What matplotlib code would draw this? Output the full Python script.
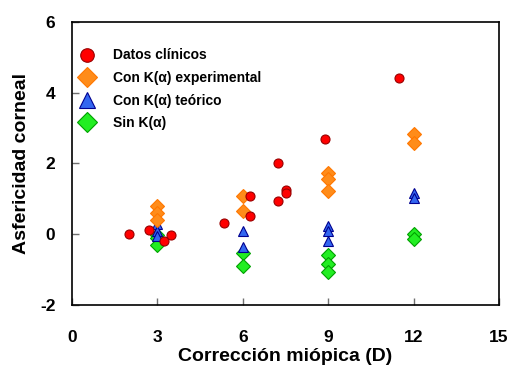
# Asfericidad corneal frente a corrección miópica

import matplotlib
matplotlib.use("Agg")
import matplotlib.pyplot as plt

plt.rcParams['font.family'] = ['Liberation Sans', 'DejaVu Sans']
plt.rcParams['font.weight'] = 'bold'
plt.rcParams['axes.unicode_minus'] = False

# datos clínicos
clin_x = [2.0, 2.72, 3.23, 3.49, 5.34, 6.25, 6.25, 7.25, 7.25, 7.5, 7.5, 8.9, 11.49]
clin_y = [0.0, 0.11, -0.2, -0.03, 0.33, 1.08, 0.52, 2.0, 0.93, 1.25, 1.18, 2.68, 4.42]

# modelo con K(alfa) experimental
exp_x = [3, 3, 3, 6, 6, 9, 9, 9, 12, 12]
exp_y = [0.8, 0.6, 0.4, 1.07, 0.65, 1.72, 1.57, 1.22, 2.84, 2.58]

# modelo con K(alfa) teórico
teo_x = [3, 3, 3, 6, 6, 9, 9, 9, 12, 12]
teo_y = [0.3, 0.1, -0.05, 0.1, -0.35, 0.23, 0.1, -0.18, 1.18, 1.02]

# modelo sin K(alfa)
sin_x = [3, 3, 3, 6, 6, 9, 9, 9, 12, 12]
sin_y = [-0.02, -0.1, -0.3, -0.53, -0.91, -0.59, -0.83, -1.06, 0.02, -0.14]

fig = plt.figure(figsize=(5.11, 3.67), dpi=100)
ax = fig.add_axes([0.141, 0.169, 0.8355, 0.771])

h_sin, = ax.plot(sin_x, sin_y, 'D', ms=7, mfc='#22EE22', mec='#00A000', mew=0.8, zorder=3)
h_teo, = ax.plot(teo_x, teo_y, '^', ms=7.5, mfc='#3366F0', mec='#000090', mew=0.8, zorder=4)
h_exp, = ax.plot(exp_x, exp_y, 'D', ms=7, mfc='#FF8C1A', mec='#FF7700', mew=0.8, zorder=5)
h_clin, = ax.plot(clin_x, clin_y, 'o', ms=6.5, mfc='#FF0000', mec='#990000', mew=0.8, zorder=6)

ax.set_xlim(0, 15)
ax.set_ylim(-2, 6)
ax.set_xticks([0, 3, 6, 9, 12, 15])
ax.set_yticks([-2, 0, 2, 4, 6])
ax.tick_params(direction='in', length=5, width=1, color='#707070', labelsize=12.5)
ax.tick_params(axis='x', pad=18)
ax.tick_params(axis='y', pad=12)
for s in ax.spines.values():
    s.set_linewidth(1.2)

ax.set_xlabel('Corrección miópica (D)', fontsize=14, fontweight='bold', labelpad=2)
ax.set_ylabel('Asfericidad corneal', fontsize=14, fontweight='bold', labelpad=7)

ax.legend([h_clin, h_exp, h_teo, h_sin],
          ['Datos clínicos', 'Con K(α) experimental', 'Con K(α) teórico', 'Sin K(α)'],
          loc='upper left', frameon=False, fontsize=10, markerscale=1.5,
          handlelength=1.0, handletextpad=1.35, labelspacing=0.62,
          borderaxespad=0.2, bbox_to_anchor=(0.0, 0.936))

fig.savefig('out.png', dpi=100)
